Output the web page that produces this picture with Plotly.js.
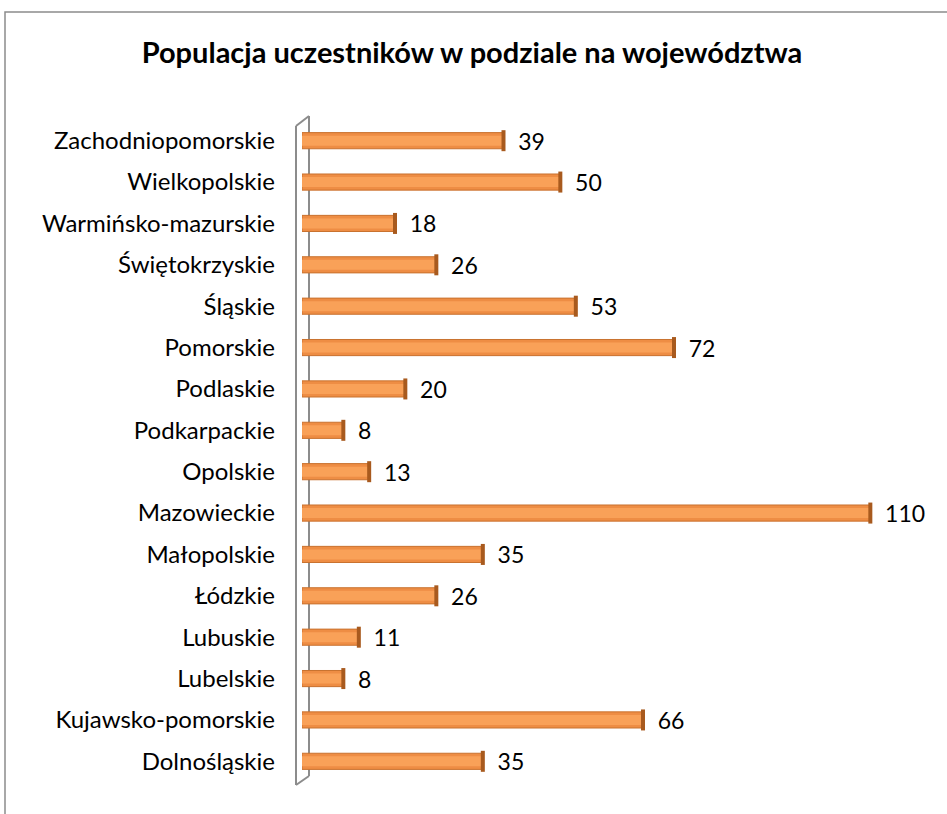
<!DOCTYPE html>
<html>
<head>
<meta charset="utf-8">
<script src="https://cdn.plot.ly/plotly-3.0.1.min.js"></script>
<style>
  body { margin: 0; background: #fff; }
  #chart { width: 947px; height: 814px; }
</style>
</head>
<body>
<div id="chart"></div>
<script>
// categories listed bottom to top (plotly draws the first one at the bottom)
const regions = [
  'Dolnośląskie', 'Kujawsko-pomorskie', 'Lubelskie', 'Lubuskie', 'Łódzkie',
  'Małopolskie', 'Mazowieckie', 'Opolskie', 'Podkarpackie', 'Podlaskie',
  'Pomorskie', 'Śląskie', 'Świętokrzyskie', 'Warmińsko-mazurskie',
  'Wielkopolskie', 'Zachodniopomorskie'
]
const participants = [35, 66, 8, 11, 26, 35, 110, 13, 8, 20, 72, 53, 26, 18, 50, 39]

const W = 947, H = 814
const M = { l: 302, r: 25, t: 120, b: 32 }
const pw = W - M.l - M.r, ph = H - M.t - M.b

// pixel -> paper helpers for the decorative wall / frame
const px = v => (v - M.l) / pw
const py = v => (H - M.b - v) / ph

const wallLine = { color: '#8c8c8c', width: 2 }
function seg(x0, y0, x1, y1, layer) {
  return { type: 'line', xref: 'paper', yref: 'paper', layer: layer || 'above',
    x0: px(x0), y0: py(y0), x1: px(x1), y1: py(y1), line: wallLine }
}

const FONT = 'Lato, sans-serif'

// cylinder body
let body = {
  type: 'bar',
  orientation: 'h',
  y: regions,
  x: participants,
  width: 0.39,
  texttemplate: '\u00a0\u00a0%{x}',
  textposition: 'outside',
  constraintext: 'none',
  cliponaxis: false,
  textfont: { family: FONT, size: 23, color: '#000' },
  marker: { color: '#EE8D44', line: { color: '#C9722F', width: 1 } },
  hoverinfo: 'y+x'
}

// lighter band through the middle of each cylinder
let shine = {
  type: 'bar',
  orientation: 'h',
  y: regions,
  x: participants,
  width: 0.24,
  marker: { color: '#F9A158', line: { width: 0 } },
  hoverinfo: 'skip'
}

// dark end cap
let caps = {
  type: 'scatter',
  mode: 'markers',
  y: regions,
  x: participants,
  cliponaxis: false,
  marker: { symbol: 'line-ns', size: 15, line: { color: '#A85A1E', width: 4 } },
  hoverinfo: 'skip'
}

let layout = {
  width: W,
  height: H,
  margin: M,
  paper_bgcolor: '#fff',
  plot_bgcolor: 'rgba(0,0,0,0)',
  showlegend: false,
  barmode: 'overlay',
  title: {
    text: '<b>Populacja uczestników w podziale na województwa</b>',
    font: { family: FONT, size: 29, color: '#000' },
    x: 472 / W, xref: 'container', xanchor: 'center',
    y: 1 - 53 / H, yref: 'container', yanchor: 'middle'
  },
  font: { family: FONT, size: 24, color: '#000' },
  xaxis: {
    range: [0, 120],
    visible: false,
    fixedrange: true
  },
  yaxis: {
    type: 'category',
    range: [-0.5, 15.5],
    showgrid: false,
    zeroline: false,
    showline: false,
    ticks: '',
    ticklabelstandoff: 26,
    tickfont: { family: FONT, size: 24, color: '#000' },
    fixedrange: true
  },
  shapes: [
    // outer chart frame (runs off the right and bottom edges)
    { type: 'rect', xref: 'paper', yref: 'paper', layer: 'below',
      x0: px(5), y0: py(12), x1: px(960), y1: py(830),
      line: { color: '#8c8c8c', width: 1.5 } },
    // 3D wall on the category axis
    seg(309, 116, 309, 776, 'below'),
    seg(296, 126, 296, 785),
    seg(296, 126, 309, 116),
    seg(296, 785, 309, 776)
  ]
}

Plotly.newPlot('chart', [body, shine, caps], layout, { displayModeBar: false, staticPlot: true })
</script>
</body>
</html>
